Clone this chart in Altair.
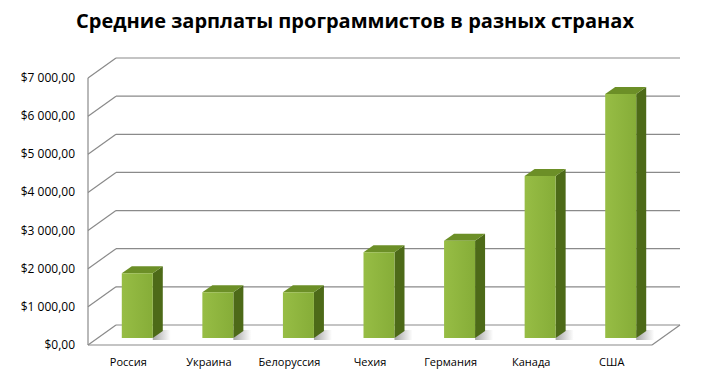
import altair as alt
import pandas as pd

# ---- data -----------------------------------------------------------------
COUNTRIES = ["Россия", "Украина", "Белоруссия", "Чехия", "Германия", "Канада", "США"]
SALARIES = [1700, 1200, 1200, 2250, 2550, 4250, 6400]
Y_TICKS = [0, 1000, 2000, 3000, 4000, 5000, 6000, 7000]
Y_LABELS = ["$0,00", "$1 000,00", "$2 000,00", "$3 000,00", "$4 000,00",
            "$5 000,00", "$6 000,00", "$7 000,00"]
TITLE = "Средние зарплаты программистов в разных странах"

# ---- geometry (pixels) --------------------------------------------------------
W, H = 564, 267
N = len(COUNTRIES)
YMAX = 7000
PX_X = W / N            # pixels per category unit
PX_Y = H / YMAX         # pixels per value unit
BACK_DX, BACK_DY = 28, 20      # depth of the floor / back wall
BAR_OX, BAR_OY = 9, 7          # bar front plane offset
BAR_W = 31                     # bar front width
DEP_DX, DEP_DY = 10, 7         # bar depth

bdx, bdy = BACK_DX / PX_X, BACK_DY / PX_Y
ox, oy = BAR_OX / PX_X, BAR_OY / PX_Y
hw = BAR_W / 2 / PX_X
ddx, ddy = DEP_DX / PX_X, DEP_DY / PX_Y

front_rows, side_rows, top_rows, shadow_rows = [], [], [], []
for i, (c, v) in enumerate(zip(COUNTRIES, SALARIES)):
    xl, xr = i - hw + ox, i + hw + ox
    y0, y1 = oy, v + oy
    front_rows.append(dict(country=c, value=v, idx=i, xl=xl, xr=xr, y0=y0, y1=y1))
    side_rows += [dict(country=c, x=xr, lo=y0, hi=y1),
                  dict(country=c, x=xr + ddx, lo=y0 + ddy, hi=y1 + ddy)]
    top_rows += [dict(country=c, x=xl, lo=y1, hi=y1),
                 dict(country=c, x=xl + ddx, lo=y1, hi=y1 + ddy),
                 dict(country=c, x=xr, lo=y1, hi=y1 + ddy),
                 dict(country=c, x=xr + ddx, lo=y1 + ddy, hi=y1 + ddy)]
    shadow_rows.append(dict(country=c, xa=xr, xb=xr + 18 / PX_X,
                            ya=y0 - 2 / PX_Y, yb=y0 + 8 / PX_Y))

front = pd.DataFrame(front_rows)
side = pd.DataFrame(side_rows)
top = pd.DataFrame(top_rows)
shadow = pd.DataFrame(shadow_rows)

x0, x1 = -0.5, N - 0.5
back = pd.DataFrame({"v": Y_TICKS, "label": Y_LABELS})
back["xa"] = x0 + bdx
back["xb"] = x1 + bdx
back["yb"] = back["v"] + bdy
back["xd"] = x0
diag_r = pd.DataFrame({"xa": [x1], "xb": [x1 + bdx], "ya": [0], "yb": [bdy]})
frame = pd.DataFrame({"xa": [x0, x0], "xb": [x1, x0], "ya": [0, 0], "yb": [0, YMAX]})

xscale = alt.Scale(domain=[x0, x1], nice=False, zero=False)
yscale = alt.Scale(domain=[0, YMAX], nice=False, zero=False)

GRID = "#8a8a8a"
FONT = "Open Sans"


def X(f):
    return alt.X(f, scale=xscale, axis=None)


def Y(f):
    return alt.Y(f, scale=yscale, axis=None)


frame_lines = alt.Chart(frame).mark_rule(color=GRID, strokeWidth=1.2).encode(
    x=X("xa:Q"), x2="xb:Q", y=Y("ya:Q"), y2="yb:Q",
)
back_lines = alt.Chart(back).mark_rule(color=GRID, strokeWidth=1.2).encode(
    x=X("xa:Q"), x2="xb:Q", y=Y("yb:Q"),
)
diag_lines = alt.Chart(back).mark_rule(color=GRID, strokeWidth=1.2).encode(
    x=X("xd:Q"), x2="xa:Q", y=Y("v:Q"), y2="yb:Q",
)
diag_right = alt.Chart(diag_r).mark_rule(color=GRID, strokeWidth=1.2).encode(
    x=X("xa:Q"), x2="xb:Q", y=Y("ya:Q"), y2="yb:Q",
)

y_labels = alt.Chart(back).mark_text(
    font=FONT, fontSize=12, color="#000000", align="right", baseline="middle",
).encode(text="label:N", x=alt.value(-13), y=Y("v:Q"))

x_labels = alt.Chart(front).mark_text(
    font=FONT, fontSize=11, color="#000000", align="center", baseline="middle",
).encode(text="country:N", x=X("idx:Q"), y=alt.value(H + 18))

title = alt.Chart(pd.DataFrame({"t": [TITLE]})).mark_text(
    font=FONT, fontSize=20, fontWeight="bold", color="#000000",
    align="center", baseline="middle",
).encode(text="t:N", x=alt.value(267), y=alt.value(-56))

shadows = alt.Chart(shadow).mark_rect(
    color=alt.Gradient(gradient="linear", x1=0, x2=1, y1=0, y2=0,
                       stops=[alt.GradientStop(color="#8f8f8f", offset=0),
                              alt.GradientStop(color="#ffffff", offset=1)]),
    opacity=0.8,
).encode(x=X("xa:Q"), x2="xb:Q", y=Y("ya:Q"), y2="yb:Q")

front_faces = alt.Chart(front).mark_rect(
    color=alt.Gradient(gradient="linear", x1=0, x2=1, y1=0, y2=0,
                       stops=[alt.GradientStop(color="#97bd45", offset=0),
                              alt.GradientStop(color="#86ad38", offset=1)]),
).encode(
    x=X("xl:Q"), x2="xr:Q", y=Y("y0:Q"), y2="y1:Q",
    tooltip=["country:N", "value:Q"],
)
side_faces = alt.Chart(side).mark_area(color="#4d6a18", interpolate="linear").encode(
    x=X("x:Q"), y=Y("hi:Q"), y2="lo:Q", detail="country:N",
)
top_faces = alt.Chart(top).mark_area(color="#6c8f27", interpolate="linear").encode(
    x=X("x:Q"), y=Y("hi:Q"), y2="lo:Q", detail="country:N",
)

chart = alt.layer(
    back_lines, diag_lines, diag_right, frame_lines, shadows, side_faces, top_faces,
    front_faces, y_labels, x_labels, title
).properties(
    width=W, height=H,
    background="#ffffff",
    autosize=alt.AutoSizeParams(type="none"),
    padding={"left": 80, "top": 70, "right": 48, "bottom": 26},
).configure_view(strokeWidth=0)

chart.save("out.html", embed_options={"renderer": "svg", "actions": False})
